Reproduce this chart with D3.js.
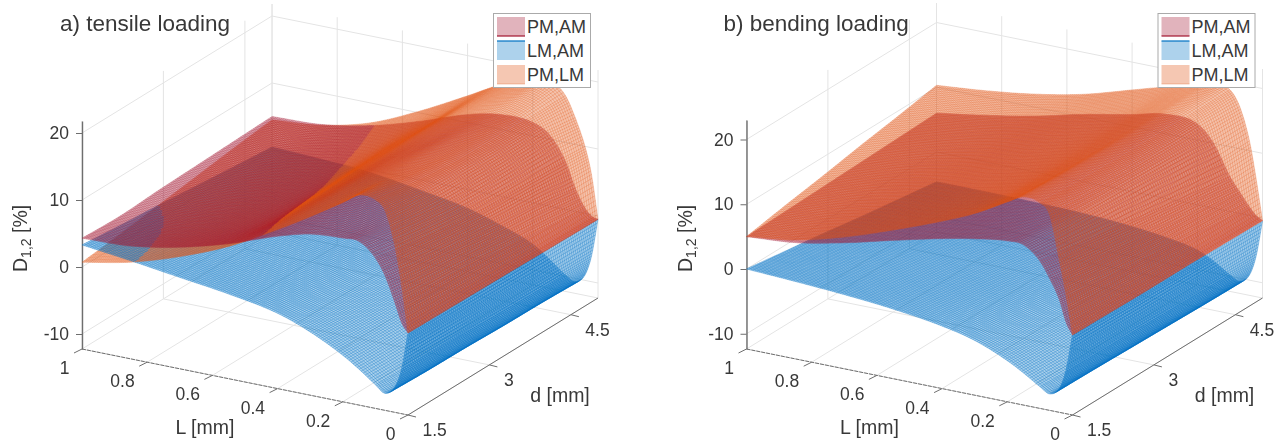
<!DOCTYPE html>
<html>
<head>
<meta charset="utf-8">
<script src="https://cdn.jsdelivr.net/npm/d3@7"></script>
<style>
html, body { margin: 0; background: #fff; }
svg { filter: blur(0.45px); }
text { font-family: "Liberation Sans", Arial, sans-serif; fill: #383838; }
</style>
</head>
<body>
<svg id="chart" width="1282" height="443"></svg>
<script>
// axes
const lengths = [1, 0.85, 0.7, 0.55, 0.4, 0.3, 0.2, 0.15, 0.1, 0.07, 0.04, 0.02, 0];
const diameters = [1.5, 2.2, 2.9, 3.6, 4.3, 5];
const zTicks = [-10, 0, 10, 20];
const lTicks = [1, 0.8, 0.6, 0.4, 0.2, 0];
const dTicks = [1.5, 3, 4.5];
const legendNames = ['PM,AM', 'LM,AM', 'PM,LM'];

// D [%], one row per length, one column per diameter
const tensilePmAm = [
  [4.3, 4.1, 4.4, 4.6, 4.8, 5],
  [4.6, 4.3, 4.3, 4.5, 4.8, 5.3],
  [5.9, 5.4, 5.3, 5.5, 6, 6.6],
  [7.9, 7.4, 7.3, 7.5, 7.9, 8.7],
  [10.5, 11.1, 11.3, 11.2, 11, 11.2],
  [11.8, 12.4, 12.6, 12.8, 12.6, 12.2],
  [12.2, 12.1, 12, 12, 12, 12],
  [12.2, 11.1, 10.3, 10.1, 10.3, 10.7],
  [10.2, 9.1, 8.2, 7.6, 7.4, 7.2],
  [7.8, 6.7, 6, 5.1, 4.5, 3.5],
  [4.1, 3.4, 2.9, 2.1, 1.5, 0.8],
  [1.4, 1.1, 0.8, 0.4, 0.1, -0.2],
  [0, -0.1, -0.2, -0.3, -0.4, -0.5]
];
const tensileLmAm = [
  [3.3, 2.7, 2.2, 1.6, 1, 0.45],
  [2.4, 1.9, 1.5, 1.1, 0.6, 0.1],
  [1.4, 1, 0.7, 0.3, 0, -0.4],
  [0.4, 0, -0.3, -0.7, -1.1, -1.5],
  [-1, -1.4, -1.7, -2.1, -2.5, -2.8],
  [-2.8, -3.1, -3.4, -3.7, -4, -4.3],
  [-5.3, -5.5, -5.6, -5.8, -6, -6.2],
  [-6.9, -7.1, -7.3, -7.5, -7.7, -7.9],
  [-8.7, -8.9, -9.1, -9.4, -9.6, -9.8],
  [-9.7, -9.9, -10, -10.2, -10.3, -10.5],
  [-8.4, -8.6, -8.7, -8.9, -9, -9.2],
  [-5.6, -5.7, -5.8, -6, -6.1, -6.2],
  [0, -0.1, -0.2, -0.3, -0.4, -0.5]
];
const tensilePmLm = [
  [0.7, 1.4, 2.2, 3, 3.8, 4.5],
  [2.2, 2.4, 2.8, 3.4, 4.2, 5.2],
  [4.5, 4.4, 4.6, 5.2, 6, 7],
  [7.5, 7.4, 7.6, 8.2, 9, 10.2],
  [11.5, 12.5, 13, 13.3, 13.5, 14],
  [14.4, 15.5, 16, 16.5, 16.6, 16.6],
  [17.5, 17.6, 17.6, 17.8, 18, 18.2],
  [19.1, 18.2, 17.6, 17.6, 18, 18.8],
  [18.9, 18, 17.3, 17, 17, 17],
  [17.5, 16.6, 16, 15.3, 14.8, 14],
  [12.5, 12, 11.6, 11, 10.5, 10],
  [7, 6.8, 6.6, 6.4, 6.2, 6],
  [0, -0.1, -0.2, -0.3, -0.4, -0.5]
];
const bendingPmAm = [
  [5, 5.2, 5.4, 5.6, 5.8, 6],
  [5.6, 5.9, 6.2, 6.5, 6.9, 7.2],
  [7.1, 7.4, 7.7, 8, 8.3, 8.6],
  [9, 9.2, 9.5, 9.8, 10.1, 10.4],
  [10.8, 10.8, 11, 11.2, 11.5, 11.9],
  [11.8, 11.8, 12, 12.3, 12.6, 13],
  [12.5, 12.3, 12.3, 12.3, 12.4, 12.5],
  [12.4, 11.9, 11.5, 11.1, 10.6, 10],
  [10.4, 9.4, 8.4, 7.4, 6.4, 5.4],
  [8, 7, 6, 5.1, 4.2, 3.3],
  [5, 4.2, 3.5, 2.8, 2, 1.3],
  [1.8, 1.5, 1.2, 0.9, 0.5, 0.2],
  [0, -0.1, -0.2, -0.2, -0.3, -0.4]
];
const bendingLmAm = [
  [0, -0.9, -1.8, -2.8, -3.7, -4.6],
  [-0.4, -1.2, -2, -2.9, -3.8, -4.6],
  [-0.9, -1.7, -2.4, -3.2, -4, -4.7],
  [-1.6, -2.3, -3, -3.6, -4.3, -4.9],
  [-2.7, -3.2, -3.8, -4.3, -4.9, -5.4],
  [-3.9, -4.3, -4.7, -5.2, -5.6, -6],
  [-6, -6.2, -6.4, -6.6, -6.8, -7],
  [-7.4, -7.6, -7.7, -7.9, -8, -8.2],
  [-9, -9.2, -9.3, -9.5, -9.6, -9.8],
  [-9.8, -9.9, -10.1, -10.2, -10.4, -10.5],
  [-8.6, -8.7, -8.8, -9, -9.1, -9.2],
  [-5.6, -5.7, -5.8, -6, -6.1, -6.2],
  [0, -0.1, -0.2, -0.3, -0.4, -0.5]
];
const bendingPmLm = [
  [5, 6.1, 7.1, 8.2, 9.2, 10.3],
  [6, 7, 8, 9, 10, 11],
  [8, 8.7, 9.5, 10.2, 11, 12],
  [10.6, 11, 11.5, 12, 12.7, 13.5],
  [13.5, 13.6, 13.8, 14.2, 14.9, 15.7],
  [15.7, 15.6, 15.7, 16, 16.5, 17.2],
  [18.5, 18.2, 18.1, 18.2, 18.5, 18.8],
  [19.8, 19.4, 19.2, 19.1, 19.2, 19.3],
  [19.4, 19, 18.8, 18.7, 18.7, 18.8],
  [17.8, 17.4, 17.1, 16.9, 16.7, 16.5],
  [11, 11.1, 11.2, 11.3, 11.4, 11.5],
  [6, 6, 6, 6, 6, 6],
  [0, -0.1, -0.2, -0.2, -0.3, -0.4]
];

const colors = ['#a2142f', '#0072c4', '#e0500f'];
const meshOpacity = [0.65, 0.85, 0.65];
const svg = d3.select('#chart');

// mesh lines per table cell, tighter close to L = 0 as in the picture
const lengthSteps = [24, 24, 24, 24, 16, 16, 8, 8, 8, 10, 10, 10];
const diameterSteps = 18;

function subdivide(nodes, steps) {
    const out = [];
    steps.forEach((n, i) => {
        d3.range(n).forEach(k => out.push(nodes[i] + (nodes[i + 1] - nodes[i]) * k / n));
    });
    out.push(nodes[nodes.length - 1]);
    return out;
}
const meshLengths = subdivide(lengths, lengthSteps);
const meshDiameters = subdivide(diameters, diameters.slice(1).map(() => diameterSteps));

// smooth curve through the table nodes
function through(xs, ys, x) {
    let i = 0;
    while (i < xs.length - 2 && (x - xs[i + 1]) * (xs[1] - xs[0]) > 0) i++;
    const slope = k => {
        const before = k > 0 ? (ys[k] - ys[k - 1]) / (xs[k] - xs[k - 1]) : null;
        const after = k < xs.length - 1 ? (ys[k + 1] - ys[k]) / (xs[k + 1] - xs[k]) : null;
        if (before === null) return after;
        if (after === null) return before;
        return (before + after) / 2;
    };
    const h = xs[i + 1] - xs[i];
    const t = (x - xs[i]) / h;
    return (2 * t ** 3 - 3 * t ** 2 + 1) * ys[i] + (t ** 3 - 2 * t ** 2 + t) * h * slope(i)
        + (-2 * t ** 3 + 3 * t ** 2) * ys[i + 1] + (t ** 3 - t ** 2) * h * slope(i + 1);
}

function drawPanel(opt) {
    const g = svg.append('g').attr('transform', `translate(${opt.x},0)`);

    // oblique 3D view: every axis moves the point along its own screen direction
    const xL = d3.scaleLinear().domain([1, 0]).range([0, 326]);
    const yL = d3.scaleLinear().domain([1, 0]).range([0, 66]);
    const xD = d3.scaleLinear().domain([1.5, 5]).range([0, 190]);
    const yD = d3.scaleLinear().domain([1.5, 5]).range([0, -117]);
    const yZ = d3.scaleLinear().domain([0, 20]).range(opt.zRange);
    const zTop = yZ.invert(opt.axisTop);
    const zBottom = yZ.invert(349);
    const pt = (l, d, z) => [xL(l) + xD(d), yZ(z) + yL(l) + yD(d)];
    const line = d3.line().digits(1);

    // back walls and floor
    const grid = g.append('g').attr('fill', 'none').attr('stroke', '#e4e4e4').attr('stroke-width', 1);
    zTicks.forEach(z => {
        grid.append('path').attr('d', line([pt(1, 1.5, z), pt(1, 5, z), pt(0, 5, z)]));
    });
    dTicks.concat(5).forEach(d => {
        grid.append('path').attr('d', line([pt(1, d, zTop), pt(1, d, zBottom), pt(0, d, zBottom)]));
    });
    lTicks.forEach(l => {
        grid.append('path').attr('d', line([pt(l, 1.5, zBottom), pt(l, 5, zBottom), pt(l, 5, zTop)]));
    });

    // floor axes
    const axes = g.append('g').attr('fill', 'none').attr('stroke', '#6e6e6e').attr('stroke-width', 1);
    axes.append('path').attr('d', line([pt(1, 1.5, zBottom), pt(0, 1.5, zBottom)])).attr('stroke-dasharray', '4,1');
    axes.append('path').attr('d', line([pt(0, 1.5, zBottom), pt(0, 5, zBottom)]));
    lTicks.forEach(l => {
        const a = pt(l, 1.5, zBottom);
        axes.append('path').attr('d', line([a, [a[0] - 8, a[1] + 4]]));
        g.append('text').attr('x', a[0] - 12.5).attr('y', a[1] + 25)
            .attr('text-anchor', 'end').attr('font-size', 17.5).text(l);
    });
    dTicks.forEach(d => {
        const a = pt(0, d, zBottom);
        axes.append('path').attr('d', line([a, [a[0] + 8, a[1] + 2]]));
        g.append('text').attr('x', a[0] + 14.5).attr('y', a[1] + 21)
            .attr('font-size', 17.5).text(d);
    });

    // z axis
    const zAxisScale = d3.scaleLinear().domain([zBottom, zTop]).range([349, opt.axisTop]);
    const zAxis = g.append('g')
        .call(d3.axisLeft(zAxisScale).tickValues(zTicks).tickFormat(z => String(z)).tickSize(6).tickSizeOuter(0));
    zAxis.select('.domain').attr('stroke', '#6e6e6e').attr('stroke-width', 1.4);
    zAxis.selectAll('.tick line').attr('stroke', '#6e6e6e');
    zAxis.selectAll('.tick text').attr('font-size', 17.5).attr('font-family', null).attr('x', -13).attr('fill', '#383838');

    // surfaces on the dense mesh
    const heights = opt.series.map(rows => {
        const columns = diameters.map((_, j) => rows.map(r => r[j]));
        return meshLengths.map(l => {
            const across = columns.map(c => through(lengths, c, l));
            return meshDiameters.map(d => through(diameters, across, d));
        });
    });
    const screen = heights.map(h => h.map((row, i) => row.map((z, j) => pt(meshLengths[i], meshDiameters[j], z))));

    // the upper surface is painted over the lower ones, cell by cell
    const layers = d3.range(3).map(() => d3.range(3).map(() => ({ front: [], back: [], mesh: [] })));
    for (let i = 0; i < meshLengths.length - 1; i++) {
        for (let j = 0; j < meshDiameters.length - 1; j++) {
            const order = d3.sort([0, 1, 2], s => heights[s][i][j] + (s == 0 ? opt.redLift : 0));
            order.forEach((s, rank) => {
                const m = screen[s];
                const quad = [m[i][j], m[i][j + 1], m[i + 1][j + 1], m[i + 1][j]];
                const layer = layers[rank][s];
                (d3.polygonArea(quad) > 0 ? layer.front : layer.back).push(line(quad) + 'Z');
                layer.mesh.push(line([m[i][j + 1], m[i][j], m[i + 1][j]]));
                if (i == meshLengths.length - 2) layer.mesh.push(line([m[i + 1][j], m[i + 1][j + 1]]));
                if (j == meshDiameters.length - 2) layer.mesh.push(line([m[i][j + 1], m[i + 1][j + 1]]));
            });
        }
    }
    layers.forEach(rank => rank.forEach((layer, s) => {
        [layer.front, layer.back].forEach(parts => {
            g.append('path').attr('d', parts.join('')).attr('fill', colors[s]).attr('fill-opacity', 0.34);
        });
        g.append('path').attr('d', layer.mesh.join('')).attr('fill', 'none')
            .attr('stroke', colors[s]).attr('stroke-width', 0.4).attr('stroke-opacity', meshOpacity[s]);
    }));

    // titles
    g.append('text').attr('x', opt.titleX).attr('y', 31).attr('font-size', 22.5).text(opt.title);
    const zLabel = g.append('text').attr('transform', 'translate(-55,272) rotate(-90)').attr('font-size', 19.5);
    zLabel.append('tspan').text('D');
    zLabel.append('tspan').attr('font-size', 14).attr('dy', 4).text('1,2');
    zLabel.append('tspan').attr('dy', -4).text(' [%]');
    g.append('text').attr('x', 123).attr('y', 434).attr('text-anchor', 'middle').attr('font-size', 19.5).text('L [mm]');
    g.append('text').attr('x', 478).attr('y', 402).attr('text-anchor', 'middle').attr('font-size', 19.5).text('d [mm]');

    // legend
    const legend = g.append('g').attr('transform', `translate(${opt.legendX},13)`);
    legend.append('rect').attr('x', 0.5).attr('y', 0.5).attr('width', 97).attr('height', 74)
        .attr('fill', '#fff').attr('stroke', '#aaa');
    legendNames.forEach((name, i) => {
        const y = 4 + i * 24;
        legend.append('rect').attr('x', 4).attr('y', y).attr('width', 28).attr('height', 19)
            .attr('fill', colors[i]).attr('fill-opacity', 0.32);
        const edgeY = i == 1 ? y : y + 19;
        legend.append('line').attr('x1', 4).attr('x2', 32).attr('y1', edgeY).attr('y2', edgeY)
            .attr('stroke', colors[i]).attr('stroke-width', 1.5).attr('stroke-opacity', i == 2 ? 0.2 : 0.8);
        legend.append('text').attr('x', 34).attr('y', y + 16).attr('font-size', 18).text(name);
    });
}

drawPanel({
    x: 82, zRange: [267, 133], axisTop: 121, title: 'a) tensile loading', titleX: -22, legendX: 411, redLift: 0.5,
    series: [tensilePmAm, tensileLmAm, tensilePmLm]
});
drawPanel({
    x: 746.5, zRange: [269, 139.5], axisTop: 120, title: 'b) bending loading', titleX: -23, legendX: 411, redLift: -0.5,
    series: [bendingPmAm, bendingLmAm, bendingPmLm]
});
</script>
</body>
</html>
